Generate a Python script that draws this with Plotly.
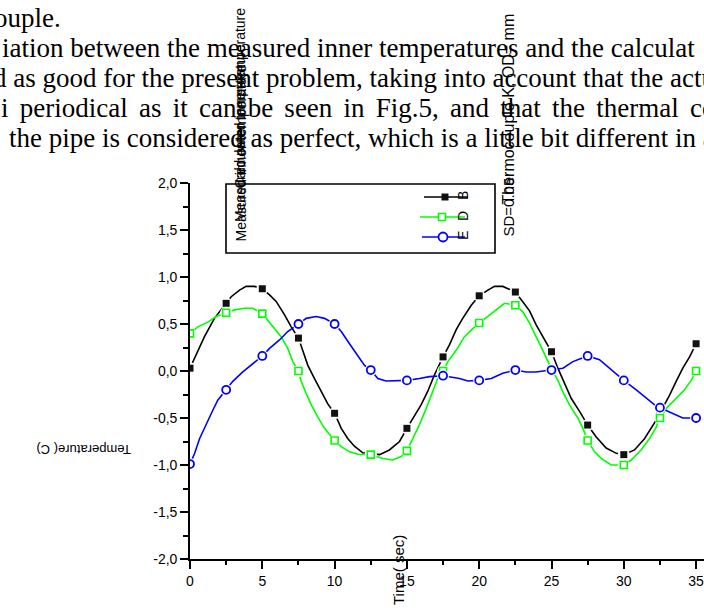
import plotly.graph_objects as go

# ---------------- data ----------------
marker_t = [0, 2.5, 5, 7.5, 10, 12.5, 15, 17.5, 20, 22.5, 25, 27.5, 30, 32.5, 35]

b_marker = [0.03, 0.72, 0.875, 0.35, -0.45, -0.88, -0.61, 0.15, 0.80, 0.84, 0.205, -0.575, -0.89, -0.45, 0.29]
d_marker = [0.40, 0.62, 0.61, 0.0, -0.74, -0.89, -0.85, 0.0, 0.51, 0.70, 0.01, -0.74, -1.0, -0.50, 0.0]
e_marker = [-0.99, -0.20, 0.16, 0.50, 0.50, 0.01, -0.10, -0.05, -0.10, 0.01, 0.01, 0.16, -0.10, -0.39, -0.50]

b_t = [0, 0.54, 1.0, 1.69, 2.5, 2.85, 3.43, 3.88, 4.46, 5.0, 5.50, 5.96, 6.53, 7.00, 7.5, 7.81, 8.15, 8.61,
       9.07, 9.53, 10.0, 10.46, 10.92, 11.37, 11.95, 12.5, 13.11, 13.79, 14.49, 15.0, 15.41, 15.98, 16.43,
       16.91, 17.5, 17.95, 18.41, 18.86, 19.45, 20.0, 20.6, 21.06, 21.63, 22.5, 23.0, 23.48, 23.94, 24.4,
       25.0, 25.44, 25.89, 26.36, 26.94, 27.5, 28.08, 28.78, 29.48, 30.0, 30.74, 31.43, 32.13, 32.5, 32.81,
       33.16, 33.62, 34.08, 34.55, 35.0]
b_v = [0.03, 0.21, 0.365, 0.56, 0.72, 0.79, 0.86, 0.90, 0.90, 0.875, 0.81, 0.74, 0.60, 0.47, 0.35, 0.21, 0.06, -0.08,
       -0.22, -0.35, -0.45, -0.61, -0.72, -0.80, -0.87, -0.88, -0.89, -0.84, -0.75, -0.61, -0.50, -0.36, -0.22,
       -0.04, 0.15, 0.28, 0.44, 0.56, 0.70, 0.80, 0.86, 0.90, 0.90, 0.84, 0.74, 0.64, 0.49, 0.36,
       0.205, 0.03, -0.13, -0.29, -0.43, -0.575, -0.70, -0.82, -0.876, -0.89, -0.84, -0.72, -0.55, -0.45, -0.36,
       -0.26, -0.11, 0.03, 0.15, 0.29]

d_t = [0, 0.54, 1.23, 1.81, 2.5, 3.08, 3.76, 4.34, 5.0, 5.38, 5.85, 6.30, 6.76, 7.11, 7.5, 7.69, 8.04, 8.39,
       8.84, 9.30, 10.0, 10.46, 11.03, 11.60, 12.5, 13.33, 14.02, 14.60, 15.0, 15.41, 15.87, 16.33, 16.79,
       17.13, 17.5, 17.83, 18.41, 18.98, 19.56, 20.0, 20.6, 21.17, 21.75, 22.5, 23.02, 23.48, 23.94, 24.4,
       25.0, 25.44, 25.78, 26.24, 26.82, 27.17, 27.5, 27.98, 28.44, 29.13, 30.0, 30.51, 31.2, 31.78, 32.2,
       32.5, 32.93, 33.62, 34.2, 34.66, 35.0]
d_v = [0.40, 0.47, 0.52, 0.58, 0.62, 0.65, 0.667, 0.667, 0.61, 0.54, 0.45, 0.365, 0.24, 0.10, 0.0, -0.11, -0.24, -0.36,
       -0.49, -0.61, -0.74, -0.805, -0.86, -0.886, -0.89, -0.93, -0.947, -0.91, -0.85, -0.72, -0.57, -0.40, -0.22,
       -0.08, 0.0, 0.10, 0.22, 0.365, 0.45, 0.51, 0.58, 0.65, 0.72, 0.70, 0.63, 0.51, 0.37, 0.22,
       0.02, -0.10, -0.22, -0.36, -0.50, -0.61, -0.74, -0.86, -0.93, -1.0, -1.0, -0.947, -0.84, -0.72, -0.61,
       -0.50, -0.40, -0.29, -0.20, -0.10, 0.0]

e_t = [0, 0.31, 0.66, 1.12, 1.57, 1.92, 2.5, 2.96, 3.65, 4.34, 5.0, 5.50, 6.19, 6.76, 7.5, 8.04, 8.72, 9.30,
       10.0, 10.46, 11.03, 11.60, 12.07, 12.5, 12.99, 13.56, 14.26, 15.0, 15.87, 16.56, 17.5, 18.64, 19.21,
       20.0, 20.83, 21.63, 22.5, 23.25, 23.94, 25.0, 25.79, 26.48, 27.5, 28.32, 29.0, 29.59, 30.0, 30.86,
       31.55, 32.13, 32.5, 33.39, 34.08, 35.0]
e_v = [-0.99, -0.88, -0.72, -0.56, -0.42, -0.31, -0.20, -0.11, -0.01, 0.08, 0.16, 0.24, 0.33, 0.42, 0.50, 0.56, 0.58, 0.56,
       0.50, 0.42, 0.29, 0.17, 0.06, 0.01, -0.08, -0.106, -0.106, -0.10, -0.08, -0.06, -0.05, -0.08, -0.106,
       -0.10, -0.08, -0.025, 0.01, -0.01, -0.01, 0.01, 0.03, 0.10, 0.16, 0.12, 0.03, -0.04, -0.10, -0.20,
       -0.29, -0.36, -0.39, -0.45, -0.50, -0.50]

x_tickvals = [0, 5, 10, 15, 20, 25, 30, 35]
x_ticktext = ["0", "5", "10", "15", "20", "25", "30", "35"]
x_minor = [2.5, 7.5, 12.5, 17.5, 22.5, 27.5, 32.5]
y_tickvals = [-2.0, -1.5, -1.0, -0.5, 0.0, 0.5, 1.0, 1.5, 2.0]
y_ticktext = ["-2,0", "-1,5", "-1,0", "-0,5", "0,0", "0,5", "1,0", "1,5", "2,0"]
y_minor = [-1.75, -1.25, -0.75, -0.25, 0.25, 0.75, 1.25, 1.75]

series_names = ["B", "D", "E"]
legend_texts = ["Measured inner temperature", "Measured outer temperature", "Calculated inner temperature"]
note_texts = ["SD=0.05", "Thermocouple K, OD= mm"]
paragraph = ["ouple.",
             "iation between the measured inner temperatures and the calculat",
             "d as good for the present problem, taking into account that the actu",
             "i periodical as it can be seen in Fig.5, and that the thermal co",
             "the pipe is considered as perfect, which is a little bit different in a"]
justify_extra = [False, False, False, True, False]

# ---------------- layout geometry ----------------
W, H = 704, 612
L, R, T, B = 190, 0, 183, 53
PW, PH = W - L - R, H - T - B
XMAX = PW / 14.46


def px(x):
    return (x - L) / PW


def py(y):
    return (H - B - y) / PH


BLACK, GREEN, BLUE = "#000000", "#00ff00", "#0000ff"
SANS = "Liberation Sans, Arial, sans-serif"
SERIF = "Liberation Serif, Times New Roman, serif"

fig = go.Figure()

specs = [
    (b_t, b_v, b_marker, BLACK, dict(symbol="square", size=7, color="#111111", line=dict(width=0))),
    (d_t, d_v, d_marker, GREEN, dict(symbol="square", size=7, color="white", line=dict(color=GREEN, width=1.6))),
    (e_t, e_v, e_marker, BLUE, dict(symbol="circle", size=8, color="white", line=dict(color=BLUE, width=1.8))),
]
for tt, vv, mv, col, mk in specs:
    fig.add_trace(go.Scatter(x=tt, y=vv, mode="lines", line=dict(color=col, width=1.6),
                             showlegend=False, hoverinfo="skip"))
    fig.add_trace(go.Scatter(x=marker_t, y=mv, mode="markers",
                             marker=dict(symbol="circle", size=12, color="white", line=dict(width=0)),
                             showlegend=False, hoverinfo="skip"))
    fig.add_trace(go.Scatter(x=marker_t, y=mv, mode="markers", marker=mk,
                             showlegend=False, hoverinfo="skip"))

axis_common = dict(showline=True, linecolor="black", linewidth=1.6, showgrid=False, zeroline=False,
                   ticks="outside", ticklen=8, tickwidth=1.5, tickcolor="black", automargin=False,
                   ticklabeloverflow="allow",
                   tickfont=dict(family=SANS, size=14, color="black"))

fig.update_xaxes(range=[0, XMAX], tickmode="array", tickvals=x_tickvals, ticktext=x_ticktext,
                 minor=dict(tickmode="array", tickvals=x_minor, ticks="outside", ticklen=4,
                            tickwidth=1.5, tickcolor="black"),
                 **axis_common)
fig.update_yaxes(range=[-2, 2], tickmode="array", tickvals=y_tickvals, ticktext=y_ticktext,
                 minor=dict(tickmode="array", tickvals=y_minor, ticks="outside", ticklen=5,
                            tickwidth=1.5, tickcolor="black"),
                 **axis_common)

shapes = []
# legend frame
shapes.append(dict(type="rect", xref="paper", yref="paper", x0=px(226), x1=px(495), y0=py(184), y1=py(253),
                   line=dict(color="black", width=1.6)))
# legend samples
leg_rows = [(197, 424, 468, 445, BLACK), (217, 420, 465, 442, GREEN), (237, 422, 465, 443, BLUE)]
for i, (yy, xa, xb, xm, col) in enumerate(leg_rows):
    shapes.append(dict(type="line", xref="paper", yref="paper", x0=px(xa), x1=px(xb), y0=py(yy), y1=py(yy),
                       line=dict(color=col, width=1.6)))
    if i == 0:
        shapes.append(dict(type="rect", xref="paper", yref="paper", x0=px(xm - 3.5), x1=px(xm + 3.5),
                           y0=py(yy + 3.5), y1=py(yy - 3.5), fillcolor="#111111", line=dict(width=0)))
    elif i == 1:
        shapes.append(dict(type="rect", xref="paper", yref="paper", x0=px(xm - 3.5), x1=px(xm + 3.5),
                           y0=py(yy + 3.5), y1=py(yy - 3.5), fillcolor="white", line=dict(color=col, width=1.6)))
    else:
        shapes.append(dict(type="circle", xref="paper", yref="paper", x0=px(xm - 4.5), x1=px(xm + 4.5),
                           y0=py(yy + 4.5), y1=py(yy - 4.5), fillcolor="white", line=dict(color=col, width=1.8)))

ann = []
# paragraph text behind the chart (line 4 is justified wider in the source)
para_pos = [(-7, 18), (1, 48), (-8, 78), (0, 108), (8, 138)]
for txt, (x0, yc), wide in zip(paragraph, para_pos, justify_extra):
    if wide:
        txt = txt.replace(" ", " \u2006")
    ann.append(dict(text=txt, x=px(x0), y=py(yc), xanchor="left", yanchor="middle", borderpad=0,
                    font=dict(family=SERIF, size=27, color="black")))

# legend series letters
for name, (yy, _, _, _, _) in zip(series_names, leg_rows):
    ann.append(dict(text=name, x=px(463), y=py(yy - 1), xanchor="center", yanchor="middle", textangle=-90,
                    font=dict(family=SANS, size=14, color="black")))

# overlapping vertical legend texts
for txt, bottom in zip(legend_texts, [243, 223, 190]):
    ann.append(dict(text=txt, x=px(240), y=py(bottom), xanchor="center", yanchor="bottom", textangle=-90,
                    borderpad=0, font=dict(family=SANS, size=14, color="black")))

# SD / thermocouple note
for txt, bottom, fs in zip(note_texts, [238, 206], [15, 16]):
    ann.append(dict(text=txt, x=px(508), y=py(bottom), xanchor="center", yanchor="bottom", textangle=-90,
                    borderpad=0, font=dict(family=SANS, size=fs, color="black")))

# axis titles
ann.append(dict(text="Temperature( C)", x=px(84), y=py(450), xanchor="center", yanchor="middle",
                textangle=180, font=dict(family=SANS, size=13, color="black")))
ann.append(dict(text="Time( sec)", x=px(398), y=py(534), xanchor="center", yanchor="top",
                textangle=-90, borderpad=0, font=dict(family=SANS, size=15, color="black")))

for a in ann:
    a.update(xref="paper", yref="paper", showarrow=False)

fig.update_layout(width=W, height=H, margin=dict(l=L, r=R, t=T, b=B, pad=0, autoexpand=False),
                  paper_bgcolor="white", plot_bgcolor="white",
                  shapes=shapes, annotations=ann, showlegend=False)

fig.write_html("out.html", config={"displayModeBar": False},
               post_script="document.body.style.margin='0';document.body.style.overflow='hidden';")
